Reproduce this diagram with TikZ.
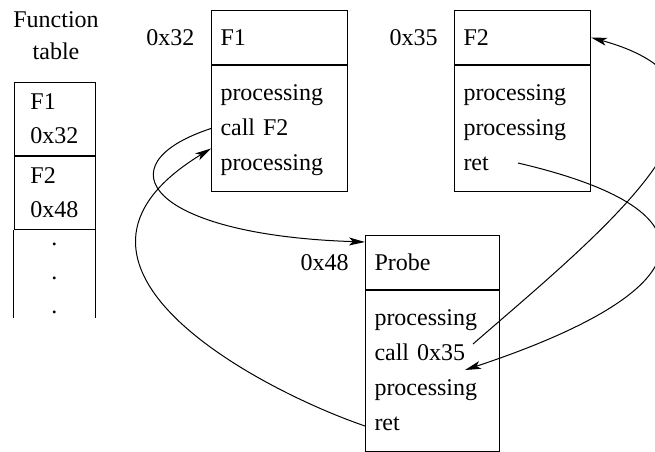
\documentclass[tikz,border=0pt]{standalone}
\usepackage{fontspec}
\setmainfont{Liberation Serif}
\usetikzlibrary{positioning}
\usetikzlibrary{arrows.meta}
\tikzset{
	hdr/.style={draw, anchor=north west, minimum height=27pt, inner xsep=4.5pt, align=left, text width=#1},
	hdr/.default=59pt,
	body/.style={draw, inner xsep=4.5pt, align=left, text width=#1, font=\fontsize{12}{17.5}\selectfont,
		execute at begin node=\strut, execute at end node=\strut},
	body/.default=59pt,
	cell/.style={draw, minimum width=40.5pt, minimum height=36.5pt, text width=24pt, align=left, font=\fontsize{12}{17}\selectfont},
	% address next to each routine
	addr/.style={inner sep=0pt},
	dot/.style={anchor=base, inner sep=0pt},
}

\begin{document}
\begin{tikzpicture}[x=0.5pt, y=-0.5pt, line width=0.5pt, font=\fontsize{12}{16}\selectfont]
	\useasboundingbox (0,0) rectangle (655,451);
	
	% function table
	\node (title) [align=center] at (56,36) {Function\\table};
	\node (t1) [cell, anchor=north] at (54.5,82) {F1\\0x32};
	\node (t2) [cell, below=0pt of t1] {F2\\0x48};
	\draw (t2.south west) -- ++(0,88);
	\draw (t2.south east) -- ++(0,88);
	\foreach \y in {245,279,313}
		\node (d\y) [dot] at (54.5,\y) {.};
	
	% routines
	\node (f1h) [hdr] at (211,10) {F1};
	\node (f1b) [body, below=0pt of f1h, minimum height=63pt] {processing\\call F2\\processing};
	\node (a32) [addr, left=8pt of f1h] {0x32};
	
	\node (f2h) [hdr] at (454,10) {F2};
	\node (f2b) [body, below=0pt of f2h, minimum height=63pt] {processing\\processing\\ret};
	\node (a35) [addr, left=8pt of f2h] {0x35};
	
	\node (prh) [hdr=58pt] at (365,235) {Probe};
	\node (prb) [body=58pt, below=0pt of prh, minimum height=80.5pt] {processing\\call 0x35\\processing\\ret};
	\node (a48) [addr, left=8pt of prh] {0x48};
	
	\coordinate (c35) at (473,344);
	\coordinate (r2) at (518,163);
	\coordinate (back) at (465,370);
	
	\begin{scope}[->, >={Stealth[length=8pt, width=4pt, inset=2pt]}]
		\draw (f1b.west) .. controls (100,165) and (150,235) .. ([yshift=-3.5pt]prh.north west);
		\draw ([yshift=13pt]prb.south west) .. controls (260,390) and (20,265) .. ([yshift=-10pt]f1b.west);
		\draw (c35) .. controls (610,225) and (780,90) .. (f2h.east);
		\draw (r2) .. controls (728,212) and (700,292) .. (back);
	\end{scope}
	
\end{tikzpicture}
\end{document}
